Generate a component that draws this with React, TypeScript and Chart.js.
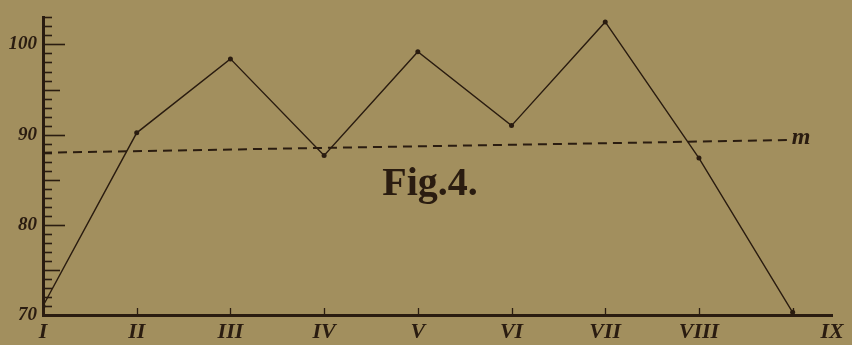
import React, { useEffect, useRef } from "react";
import { Chart, registerables } from "chart.js";

Chart.register(...registerables);

// ---- data ----
const categories = ["I", "II", "III", "IV", "V", "VI", "VII", "VIII", "IX"];
const seriesValues = [71.0, 90.2, 98.4, 87.7, 99.2, 91.0, 102.5, 87.4, 70.3];
const meanLineX = [0, 7.97];
const meanLineY = [88.0, 89.4];
const yTickLabels = [70, 80, 90, 100];
const xTickPositions = [0, 1, 2, 3, 4, 5, 6, 7, 8.42];
const meanLabel = "m";
const figureTitle = "Fig.4.";
const figureTitleAt = { x: 4.13, y: 83.3 };

const INK = "#2a1c10";
const PAPER = "#a28f5e";

const decorPlugin = {
  id: "decor",
  beforeDraw(chart: any) {
    const ctx = chart.ctx;
    ctx.save();
    ctx.fillStyle = PAPER;
    ctx.fillRect(0, 0, chart.width, chart.height);
    ctx.restore();
  },
  afterDraw(chart: any) {
    const ctx = chart.ctx;
    const xs = chart.scales.x;
    const ys = chart.scales.y;
    const area = chart.chartArea;
    ctx.save();
    ctx.strokeStyle = INK;
    ctx.lineWidth = 1.6;
    // y ticks (inward)
    for (let v = 71; v <= 103; v++) {
      const len = v % 10 === 0 ? 22 : v % 5 === 0 ? 17 : 9;
      const py = Math.round(ys.getPixelForValue(v)) + 0.5;
      ctx.beginPath();
      ctx.moveTo(area.left, py);
      ctx.lineTo(area.left + len, py);
      ctx.stroke();
    }
    // x ticks (upward)
    ctx.lineWidth = 1.3;
    for (let i = 1; i < categories.length; i++) {
      const px = Math.round(xs.getPixelForValue(i)) + 0.5;
      ctx.beginPath();
      ctx.moveTo(px, area.bottom);
      ctx.lineTo(px, area.bottom - 7);
      ctx.stroke();
    }
    // "m" label at end of dashed line
    const mx = xs.getPixelForValue(meanLineX[1]);
    const my = ys.getPixelForValue(meanLineY[1]);
    ctx.fillStyle = INK;
    ctx.font = "italic bold 24px 'Liberation Serif', serif";
    ctx.textAlign = "left";
    ctx.textBaseline = "middle";
    ctx.fillText(meanLabel, mx + 2, my - 2);
    // figure title
    ctx.font = "bold 40px 'Liberation Serif', serif";
    ctx.textAlign = "center";
    ctx.textBaseline = "alphabetic";
    ctx.fillText(
      figureTitle,
      xs.getPixelForValue(figureTitleAt.x),
      ys.getPixelForValue(figureTitleAt.y)
    );
    ctx.restore();
  },
};

export default function App() {
  const ref = useRef<HTMLCanvasElement | null>(null);

  useEffect(() => {
    document.body.style.margin = "0";
    document.body.style.background = PAPER;
    const canvas = ref.current;
    if (!canvas) return;
    const chart = new Chart(canvas, {
      type: "line",
      data: {
        datasets: [
          {
            data: seriesValues.map((v, i) => ({ x: i, y: v })),
            borderColor: INK,
            borderWidth: 1.4,
            pointRadius: 2.5,
            pointBackgroundColor: INK,
            pointBorderWidth: 0,
            tension: 0,
          },
          {
            data: meanLineX.map((x, i) => ({ x, y: meanLineY[i] })),
            borderColor: INK,
            borderWidth: 2,
            borderDash: [9, 6],
            pointRadius: 0,
            tension: 0,
          },
        ],
      },
      options: {
        animation: false,
        responsive: false,
        devicePixelRatio: 1,
        layout: { padding: { top: 10, right: 20, left: 0, bottom: 0 } },
        plugins: {
          legend: { display: false },
          tooltip: { enabled: false },
          title: { display: false },
        },
        scales: {
          x: {
            type: "linear",
            min: 0,
            max: 8.42,
            afterFit: (s: any) => {
              s.height = 30;
            },
            afterBuildTicks: (s: any) => {
              s.ticks = xTickPositions.map((v) => ({ value: v }));
            },
            grid: { display: false, drawTicks: false },
            border: { display: true, color: INK, width: 3 },
            ticks: {
              padding: 4,
              autoSkip: false,
              maxRotation: 0,
              color: INK,
              font: { family: "'Liberation Serif', serif", size: 22, style: "italic", weight: "bold" },
              callback: (_v: any, i: number) => categories[i],
            },
          },
          y: {
            type: "linear",
            min: 70,
            max: 103,
            afterFit: (s: any) => {
              s.width = 43;
            },
            grid: { display: false, drawTicks: false },
            border: { display: true, color: INK, width: 3 },
            ticks: {
              stepSize: 1,
              autoSkip: false,
              padding: 6,
              color: INK,
              font: { family: "'Liberation Serif', serif", size: 19, style: "italic", weight: "bold" },
              callback: (v: any) => (yTickLabels.includes(Number(v)) ? String(v) : ""),
            },
          },
        },
      },
      plugins: [decorPlugin],
    } as any);
    return () => chart.destroy();
  }, []);

  return (
    <div style={{ position: "fixed", left: 0, top: 0, width: 852, height: 345, background: PAPER }}>
      <canvas ref={ref} width={852} height={345} style={{ display: "block" }} />
    </div>
  );
}
